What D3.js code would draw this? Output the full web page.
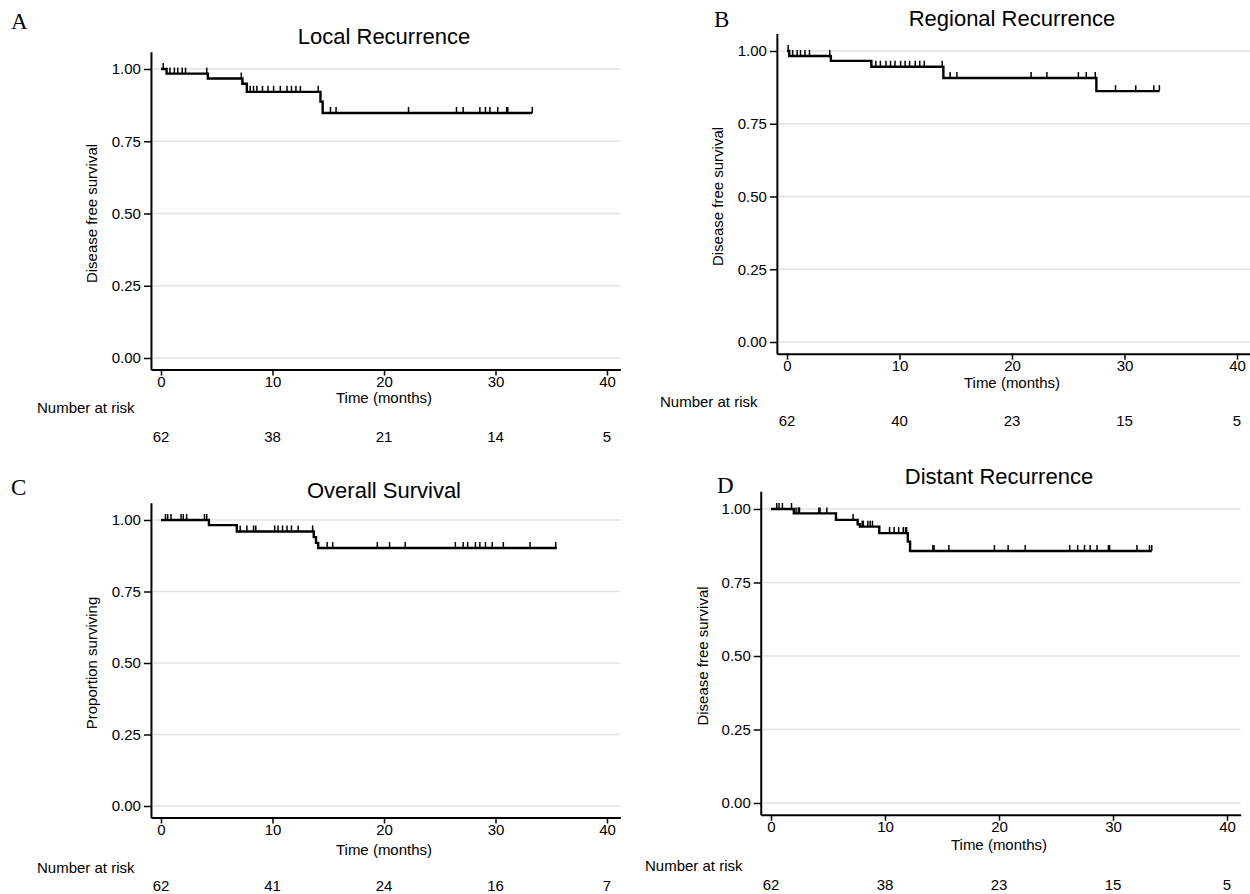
<!DOCTYPE html>
<html>
<head>
<meta charset="utf-8">
<script src="https://cdn.jsdelivr.net/npm/d3@7"></script>
<style>
    body { margin: 0; background: #fff; }
    svg text { font-family: "Liberation Sans", Arial, sans-serif; fill: #000; }
    .letter { font-family: "Liberation Serif", "Times New Roman", serif; }
</style>
</head>
<body>
<svg id="chart" width="1250" height="894"></svg>
<script>
// Kaplan-Meier step data (months, survival)
var xTicks = [0, 10, 20, 30, 40];
var yTicks = [0, 0.25, 0.5, 0.75, 1];

var localTimes = [0, 0.5, 4.2, 7.3, 7.7, 14.3, 14.5];
var localSurv = [1, 0.984, 0.967, 0.949, 0.921, 0.887, 0.848];
var localEnd = 33.3;
var localCensor = [0.2, 0.8, 1.2, 1.5, 1.9, 2.2, 4.1, 7.2, 8.0, 8.3, 8.6, 9.1, 9.6, 10.1, 10.7, 11.3, 11.7, 12.1, 12.5, 14.1,
    15.2, 15.7, 22.2, 26.5, 27.1, 28.6, 29.1, 29.5, 30.2, 31.0, 31.1, 33.3];
var localRisk = [62, 38, 21, 14, 5];

var regionalTimes = [0, 0.2, 3.9, 7.5, 13.9, 27.5];
var regionalSurv = [1, 0.983, 0.966, 0.946, 0.907, 0.862];
var regionalEnd = 33.1;
var regionalCensor = [0.1, 0.5, 0.9, 1.2, 1.6, 2.0, 3.8, 7.9, 8.3, 8.8, 9.2, 9.6, 10.1, 10.5, 10.9, 11.4, 11.8, 12.2, 13.8,
    14.5, 15.1, 21.7, 23.1, 25.9, 26.6, 27.4, 29.2, 31.0, 32.6, 33.1];
var regionalRisk = [62, 40, 23, 15, 5];

var overallTimes = [0, 4.3, 6.8, 13.7, 13.9, 14.1];
var overallSurv = [1, 0.982, 0.96, 0.94, 0.92, 0.902];
var overallEnd = 35.5;
var overallCensor = [0.4, 0.6, 0.9, 1.8, 2.0, 2.3, 3.9, 4.1, 7.1, 7.7, 8.3, 8.5, 10.2, 10.5, 10.9, 11.3, 11.7, 12.3, 13.6,
    14.9, 15.4, 19.4, 20.5, 21.9, 26.4, 27.1, 27.5, 28.2, 28.6, 29.1, 29.7, 30.7, 33.1, 35.4];
var overallRisk = [62, 41, 24, 16, 7];

var distantTimes = [0, 2.0, 5.7, 7.6, 7.8, 9.5, 12.0, 12.2];
var distantSurv = [1, 0.985, 0.963, 0.948, 0.94, 0.918, 0.889, 0.857];
var distantEnd = 33.4;
var distantCensor = [0.5, 0.7, 1.0, 1.8, 2.2, 2.4, 2.5, 4.2, 4.3, 4.9, 7.2, 8.0, 8.1, 8.5, 8.7, 8.9, 10.4, 10.8, 11.2, 11.6,
    11.8, 11.9, 14.2, 14.3, 15.6, 19.6, 20.8, 22.3, 26.2, 26.9, 27.5, 28.0, 28.6, 29.6, 29.7, 32.1, 33.2, 33.4];
var distantRisk = [62, 38, 23, 15, 5];

var svg = d3.select("#chart");

function drawPanel(p) {
    "use strict";
    var g = svg.append("g");

    //Define scales, plus stretched copies for the axis lines that run past the ticks
    var x = d3.scaleLinear().domain([0, 40]).range([p.x0, p.x40]);
    var y = d3.scaleLinear().domain([0, 1]).range([p.y0, p.y1]);
    var xAxisScale = x.copy().domain([-0.9, 41.2]).range([x(-0.9), x(41.2)]);
    var yAxisScale = y.copy().domain([-0.04, 1.06]).range([y(-0.04), y(1.06)]);
    var axisX = xAxisScale(-0.9);
    var axisY = yAxisScale(-0.04);

    //Gridlines
    g.selectAll(".grid")
        .data(yTicks)
        .enter()
        .append("line")
        .attr("x1", axisX + 2)
        .attr("x2", xAxisScale(41.2))
        .attr("y1", function (d) { return y(d); })
        .attr("y2", function (d) { return y(d); })
        .style("stroke", "#e3e3e3")
        .style("stroke-width", 1.6);

    //Y axis
    var yAxis = g.append("g")
        .attr("transform", "translate(" + axisX + ",0)")
        .call(d3.axisLeft(yAxisScale).tickValues(yTicks).tickFormat(d3.format(".2f")).tickSize(7).tickSizeOuter(0).tickPadding(3));
    //X axis
    var xAxis = g.append("g")
        .attr("transform", "translate(0," + axisY + ")")
        .call(d3.axisBottom(xAxisScale).tickValues(xTicks).tickSize(6).tickSizeOuter(0).tickPadding(1));
    [yAxis, xAxis].forEach(function (a) {
        a.select(".domain").style("stroke", "#000").style("stroke-width", 2);
        a.selectAll(".tick line").style("stroke", "#000").style("stroke-width", 1.5);
        a.selectAll("text").style("font-size", "15px").style("font-family", "'Liberation Sans', Arial, sans-serif");
    });

    //Survival step curve
    var pts = p.times.map(function (t, i) { return [t, p.surv[i]]; });
    pts.push([p.end, p.surv[p.surv.length - 1]]);
    var line = d3.line()
        .x(function (d) { return x(d[0]); })
        .y(function (d) { return y(d[1]); })
        .curve(d3.curveStepAfter);
    g.append("path")
        .attr("d", line(pts))
        .style("fill", "none")
        .style("stroke", "#000")
        .style("stroke-width", 2.4);

    //Censoring marks sit on the curve value at that time
    function survAt(t) {
        var i = d3.bisectRight(p.times, t) - 1;
        return p.surv[Math.max(i, 0)];
    }
    g.selectAll(".censor")
        .data(p.censor)
        .enter()
        .append("line")
        .attr("x1", function (d) { return x(d); })
        .attr("x2", function (d) { return x(d); })
        .attr("y1", function (d) { return y(survAt(d)); })
        .attr("y2", function (d) { return y(survAt(d)) - 6; })
        .style("stroke", "#000")
        .style("stroke-width", 1.5);

    //Titles and labels
    g.append("text")
        .attr("x", (p.x0 + p.x40) / 2)
        .attr("y", p.titleY + 7)
        .attr("text-anchor", "middle")
        .style("font-size", "22px")
        .text(p.title);
    g.append("text")
        .attr("class", "letter")
        .attr("x", p.letterX)
        .attr("y", p.letterY)
        .style("font-size", "23px")
        .text(p.letter);
    g.append("text")
        .attr("transform", "translate(" + p.yLabelX + "," + ((p.y0 + p.y1) / 2) + ") rotate(-90)")
        .attr("text-anchor", "middle")
        .style("font-size", "15px")
        .text(p.yLabel);
    g.append("text")
        .attr("x", (p.x0 + p.x40) / 2)
        .attr("y", p.timeY + 5)
        .attr("text-anchor", "middle")
        .style("font-size", "15px")
        .text("Time (months)");

    //Number at risk table
    g.append("text")
        .attr("x", p.riskX)
        .attr("y", p.riskLabelY + 5)
        .style("font-size", "15px")
        .text("Number at risk");
    g.selectAll(".risk")
        .data(p.risk)
        .enter()
        .append("text")
        .attr("x", function (d, i) { return x(xTicks[i]); })
        .attr("y", p.riskY + 5)
        .attr("text-anchor", "middle")
        .style("font-size", "15px")
        .text(function (d) { return d; });
}

drawPanel({title: "Local Recurrence", letter: "A", yLabel: "Disease free survival",
    times: localTimes, surv: localSurv, end: localEnd, censor: localCensor, risk: localRisk,
    x0: 161, x40: 607, y0: 358, y1: 69, titleY: 37, letterX: 11, letterY: 29, yLabelX: 97, riskX: 37,
    timeY: 398, riskLabelY: 408, riskY: 437});
drawPanel({title: "Regional Recurrence", letter: "B", yLabel: "Disease free survival",
    times: regionalTimes, surv: regionalSurv, end: regionalEnd, censor: regionalCensor, risk: regionalRisk,
    x0: 787, x40: 1237, y0: 342, y1: 51, titleY: 19, letterX: 714, letterY: 27, yLabelX: 723, riskX: 660,
    timeY: 383, riskLabelY: 402, riskY: 421});
drawPanel({title: "Overall Survival", letter: "C", yLabel: "Proportion surviving",
    times: overallTimes, surv: overallSurv, end: overallEnd, censor: overallCensor, risk: overallRisk,
    x0: 161, x40: 607, y0: 806, y1: 520, titleY: 491, letterX: 11, letterY: 495, yLabelX: 97, riskX: 37,
    timeY: 850, riskLabelY: 868, riskY: 886});
drawPanel({title: "Distant Recurrence", letter: "D", yLabel: "Disease free survival",
    times: distantTimes, surv: distantSurv, end: distantEnd, censor: distantCensor, risk: distantRisk,
    x0: 771, x40: 1227, y0: 803, y1: 509, titleY: 477, letterX: 717, letterY: 493, yLabelX: 708, riskX: 645,
    timeY: 845, riskLabelY: 866, riskY: 885});
</script>
</body>
</html>
